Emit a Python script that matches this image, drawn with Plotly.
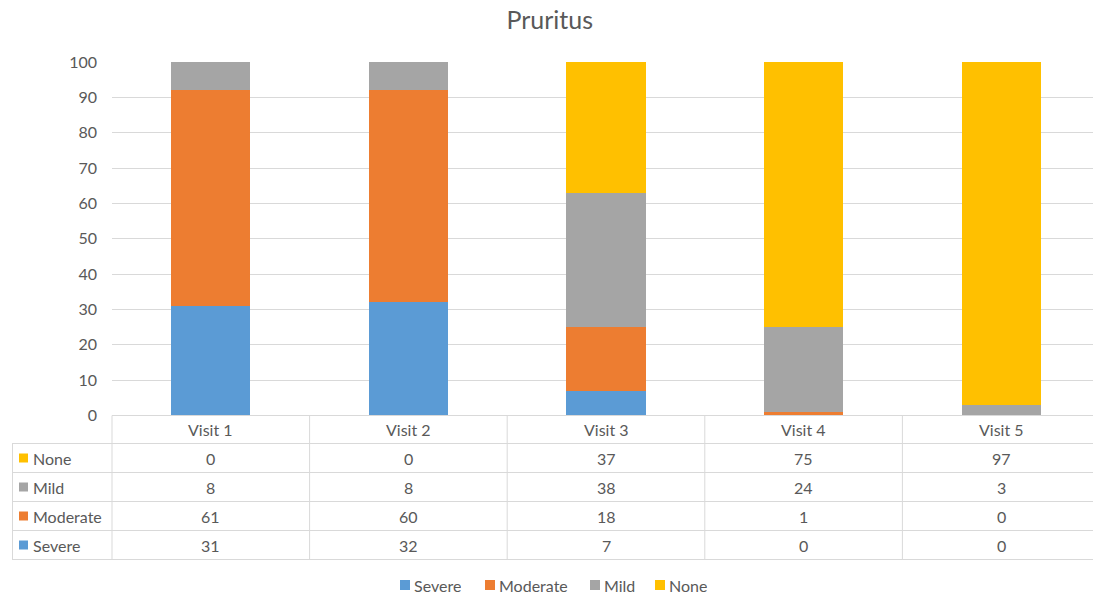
import plotly.graph_objects as go

visits = ["Visit 1", "Visit 2", "Visit 3", "Visit 4", "Visit 5"]
severe = [31, 32, 7, 0, 0]
moderate = [61, 60, 18, 1, 0]
mild = [8, 8, 38, 24, 3]
none_ = [0, 0, 37, 75, 97]

series = [
    ("Severe", severe, "#5B9BD5"),
    ("Moderate", moderate, "#ED7D31"),
    ("Mild", mild, "#A5A5A5"),
    ("None", none_, "#FFC000"),
]
table_order = ["None", "Mild", "Moderate", "Severe"]

W, H = 1093, 594
L, T = 112, 62
PW, PH = W - L, H - T
CAT = 197.6
FONT = "Lato"
FS = 16
TXT = "#595959"
GRID = "#D9D9D9"
legend_x = [400, 485, 590, 655]


def px(p):
    return (p - L) / PW


def py(p):
    return (H - p) / PH


fig = go.Figure()
for name, vals, col in series:
    fig.add_trace(go.Bar(x=list(range(len(visits))), y=vals, name=name,
                         marker=dict(color=col, line=dict(width=0)), width=0.4,
                         showlegend=False))

shapes = []
line = dict(color=GRID, width=1)
shapes.append(dict(type="line", xref="paper", yref="paper", x0=px(112), x1=px(1100),
                   y0=py(415.5), y1=py(415.5), line=line))
row_edges = [443.5, 472.5, 501.5, 530.5, 559.5]
for r in row_edges:
    shapes.append(dict(type="line", xref="paper", yref="paper", x0=px(12), x1=px(1100),
                       y0=py(r), y1=py(r), line=line))
shapes.append(dict(type="line", xref="paper", yref="paper", x0=px(12.5), x1=px(12.5),
                   y0=py(443.5), y1=py(559.5), line=line))
for i in range(len(visits)):
    xv = L + i * CAT
    shapes.append(dict(type="line", xref="paper", yref="paper", x0=px(xv), x1=px(xv),
                       y0=py(415.5), y1=py(559.5), line=line))

annotations = []
for i, v in enumerate(visits):
    annotations.append(dict(x=i, xref="x", y=py(429.5), yref="paper", text=v,
                            xanchor="center", yanchor="middle",
                            showarrow=False, font=dict(size=FS, color=TXT, family=FONT)))

lookup = {n: (vals, col) for n, vals, col in series}
for k, name in enumerate(table_order):
    vals, col = lookup[name]
    yc = row_edges[k] + 14.5
    shapes.append(dict(type="rect", xref="paper", yref="paper", x0=px(19), x1=px(28),
                       y0=py(yc - 4.5), y1=py(yc + 4.5), fillcolor=col, line=dict(width=0)))
    annotations.append(dict(x=px(31), xref="paper", y=py(yc), yref="paper", text=name,
                            xanchor="left", yanchor="middle", showarrow=False,
                            font=dict(size=FS, color=TXT, family=FONT)))
    for i, v in enumerate(vals):
        annotations.append(dict(x=i, xref="x", y=py(yc), yref="paper", text=str(v),
                                xanchor="center", yanchor="middle",
                                showarrow=False, font=dict(size=FS, color=TXT, family=FONT)))

# custom legend
LY = 585
for (name, vals, col), lx in zip(series, legend_x):
    shapes.append(dict(type="rect", xref="paper", yref="paper", x0=px(lx), x1=px(lx + 10),
                       y0=py(LY - 5), y1=py(LY + 5), fillcolor=col, line=dict(width=0)))
    annotations.append(dict(x=px(lx + 13), xref="paper", y=py(LY), yref="paper", text=name,
                            xanchor="left", yanchor="middle", showarrow=False, height=16,
                            borderpad=0,
                            font=dict(size=FS, color=TXT, family=FONT)))

fig.update_layout(
    width=W, height=H,
    margin=dict(l=L, r=0, t=T, b=0, autoexpand=False),
    barmode="stack",
    plot_bgcolor="white", paper_bgcolor="white",
    font=dict(family=FONT, color=TXT, size=FS),
    title=dict(text="Pruritus", x=0.503, xref="container", y=1 - 20 / H, yref="container",
               xanchor="center", yanchor="middle", font=dict(size=25, color=TXT, family=FONT)),
    xaxis=dict(range=[-0.5, -0.5 + PW / CAT], showticklabels=False, showgrid=False,
               zeroline=False, showline=False, fixedrange=True, automargin=False),
    yaxis=dict(domain=[py(415.5), 1], range=[0, 100], dtick=10, gridcolor=GRID,
               zeroline=False, showline=False, ticks="", ticklabelstandoff=14,
               automargin=False, tickfont=dict(size=FS, color=TXT, family=FONT)),
    shapes=shapes,
    annotations=annotations,
    showlegend=False,
)

fig.write_html("out.html")
